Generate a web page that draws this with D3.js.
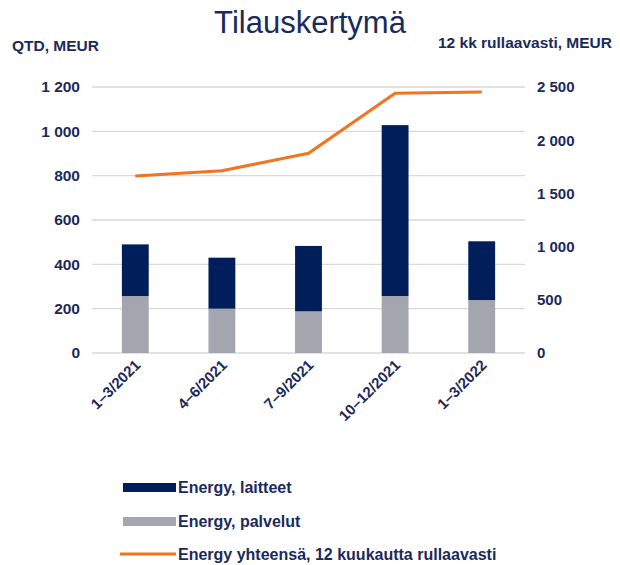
<!DOCTYPE html>
<html>
<head>
<meta charset="utf-8">
<script src="https://cdn.jsdelivr.net/npm/d3@7"></script>
<style>
  body { margin: 0; background: #fff; }
  svg text { font-family: "Liberation Sans", Arial, sans-serif; fill: #1b2a5c; }
</style>
</head>
<body>
<div id="chart"></div>
<script>
// Tilauskertymä: stacked quarterly bars + rolling 12-month line (right axis)
const quarters = ["1\u20133/2021", "4\u20136/2021", "7\u20139/2021", "10\u201312/2021", "1\u20133/2022"];
const palvelut = [257, 200, 188, 257, 239];
const laitteet = [233, 230, 295, 771, 265];
const rolling12 = [1663, 1713, 1877, 2441, 2453];
const leftTicks = [0, 200, 400, 600, 800, 1000, 1200];
const rightTicks = [0, 500, 1000, 1500, 2000, 2500];

const seriesNames = ["Energy, laitteet", "Energy, palvelut", "Energy yhteensä, 12 kuukautta rullaavasti"];
const colors = { laitteet: "#001e5a", palvelut: "#a3a6ae", line: "#f47321" };

const width = 620, height = 565;
const plot = { left: 92, right: 525, top: 87, bottom: 353 };

const svg = d3.select("#chart").append("svg")
  .attr("width", width).attr("height", height);

const fmt = (v) => d3.format(",")(v).replace(/,/g, " ");

const x = d3.scaleBand().domain(quarters).range([plot.left, plot.right]).paddingInner(0.69).paddingOuter(0.345);
const yL = d3.scaleLinear().domain([0, 1200]).range([plot.bottom, plot.top]);
const yR = d3.scaleLinear().domain([0, 2500]).range([plot.bottom, plot.top]);

// title + axis titles
svg.append("text").attr("x", 310).attr("y", 33).attr("text-anchor", "middle")
  .attr("font-size", 31).text("Tilauskertymä");
svg.append("text").attr("x", 12).attr("y", 51).attr("font-size", 15.5).attr("font-weight", "bold")
  .text("QTD, MEUR");
svg.append("text").attr("x", 612).attr("y", 48).attr("text-anchor", "end").attr("font-size", 15.5)
  .attr("font-weight", "bold").text("12 kk rullaavasti, MEUR");

// gridlines
svg.append("g").selectAll("line").data(leftTicks).join("line")
  .attr("x1", plot.left).attr("x2", plot.right)
  .attr("y1", (d) => yL(d)).attr("y2", (d) => yL(d))
  .attr("stroke", "#d9d9d9").attr("stroke-width", 1.3);

// left axis
const axL = svg.append("g").attr("transform", `translate(${plot.left - 12},0)`)
  .call(d3.axisLeft(yL).tickValues(leftTicks).tickFormat(fmt).tickSize(0).tickPadding(0));
axL.select(".domain").remove();
axL.selectAll("text").attr("font-size", 15.5).attr("font-weight", "bold")
  .attr("font-family", "Liberation Sans, Arial, sans-serif").attr("fill", "#1b2a5c");

// right axis
const axR = svg.append("g").attr("transform", `translate(${plot.right + 12},0)`)
  .call(d3.axisRight(yR).tickValues(rightTicks).tickFormat(fmt).tickSize(0).tickPadding(0));
axR.select(".domain").remove();
axR.selectAll("text").attr("font-size", 15).attr("font-weight", "bold")
  .attr("font-family", "Liberation Sans, Arial, sans-serif").attr("fill", "#1b2a5c");

// stacked bars
const rows = quarters.map((q, i) => ({ q, palvelut: palvelut[i], laitteet: laitteet[i] }));
const stack = d3.stack().keys(["palvelut", "laitteet"])(rows);
svg.append("g").selectAll("g").data(stack).join("g")
  .attr("fill", (s) => colors[s.key])
  .selectAll("rect").data((s) => s).join("rect")
  .attr("x", (d) => x(d.data.q))
  .attr("width", x.bandwidth())
  .attr("y", (d) => yL(d[1]))
  .attr("height", (d) => yL(d[0]) - yL(d[1]));

// rolling line
const line = d3.line()
  .x((d, i) => x(quarters[i]) + x.bandwidth() / 2)
  .y((d) => yR(d));
svg.append("path").datum(rolling12)
  .attr("d", line).attr("fill", "none")
  .attr("stroke", colors.line).attr("stroke-width", 3);

// x labels
svg.append("g").selectAll("text").data(quarters).join("text")
  .attr("transform", (d) => `translate(${x(d) + x.bandwidth() / 2 + 6},${plot.bottom + 13}) rotate(-45)`)
  .attr("text-anchor", "end").attr("font-size", 15).attr("font-weight", "bold")
  .text((d) => d);

// legend
const legend = svg.append("g");
const legendY = [487, 521, 554];
const swatch = [colors.laitteet, colors.palvelut, colors.line];
seriesNames.forEach((name, i) => {
  if (i < 2) {
    legend.append("rect").attr("x", 123).attr("y", legendY[i] - 4).attr("width", 53).attr("height", 9)
      .attr("fill", swatch[i]);
  } else {
    legend.append("line").attr("x1", 120).attr("x2", 176).attr("y1", legendY[i]).attr("y2", legendY[i])
      .attr("stroke", swatch[i]).attr("stroke-width", 3);
  }
  legend.append("text").attr("x", 178).attr("y", legendY[i] + 6)
    .attr("font-size", 16).attr("font-weight", "bold").text(name);
});
</script>
</body>
</html>
